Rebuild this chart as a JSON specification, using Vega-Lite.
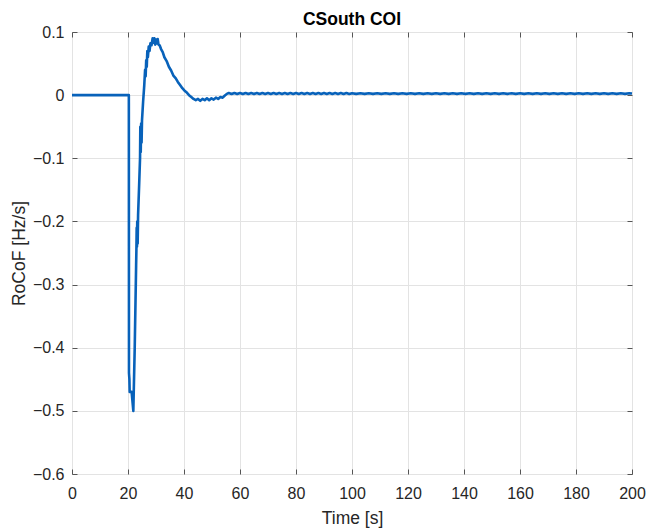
{
  "$schema": "https://vega.github.io/schema/vega-lite/v6.json",
  "width": 560,
  "height": 442,
  "autosize": {"type": "none"},
  "padding": {"left": 72, "top": 32, "right": 16, "bottom": 56},
  "background": "white",
  "title": {"text": "CSouth COI", "font": "Liberation Sans", "fontSize": 17.5, "fontWeight": "bold", "color": "#000000", "offset": -4, "anchor": "middle"},
  "config": {
    "font": "Liberation Sans",
    "view": {"stroke": "#7a7a7a", "strokeWidth": 1}
  },
  "data": {"values": [
    {"t":0,"v":0},{"t":20.3,"v":0},{"t":20.35,"v":-0.44},{"t":20.5,"v":-0.45},{"t":20.6,"v":-0.47},{"t":21.3,"v":-0.47},{"t":21.9,"v":-0.5},{"t":22.4,"v":-0.4},{"t":22.9,"v":-0.27},{"t":23.0,"v":-0.245},{"t":23.1,"v":-0.21},{"t":23.2,"v":-0.24},{"t":23.3,"v":-0.2},{"t":23.45,"v":-0.235},{"t":23.6,"v":-0.19},{"t":24.0,"v":-0.14},{"t":24.3,"v":-0.1},{"t":24.4,"v":-0.05},{"t":24.55,"v":-0.09},{"t":24.7,"v":-0.045},{"t":24.85,"v":-0.075},{"t":25.0,"v":-0.04},{"t":25.4,"v":-0.01},{"t":25.8,"v":0.015},{"t":26.1,"v":0.04},{"t":26.3,"v":0.03},{"t":26.5,"v":0.055},{"t":26.7,"v":0.045},{"t":26.9,"v":0.07},{"t":27.1,"v":0.06},{"t":27.4,"v":0.077},{"t":27.7,"v":0.07},{"t":28.0,"v":0.082},{"t":28.4,"v":0.079},{"t":28.8,"v":0.09},{"t":29.1,"v":0.083},{"t":29.4,"v":0.09},{"t":29.7,"v":0.08},{"t":30.0,"v":0.088},{"t":30.3,"v":0.082},{"t":30.6,"v":0.089},{"t":30.9,"v":0.08},{"t":31.3,"v":0.079},{"t":31.8,"v":0.073},{"t":32.4,"v":0.068},{"t":33.0,"v":0.06},{"t":33.8,"v":0.054},{"t":34.6,"v":0.045},{"t":35.4,"v":0.039},{"t":36.2,"v":0.031},{"t":37.0,"v":0.027},{"t":37.8,"v":0.021},{"t":38.6,"v":0.016},{"t":39.4,"v":0.011},{"t":40.2,"v":0.007},{"t":41.0,"v":0.004},{"t":41.8,"v":0.0},{"t":42.6,"v":-0.003},{"t":43.4,"v":-0.006},{"t":44.2,"v":-0.008},{"t":45.0,"v":-0.006},{"t":45.8,"v":-0.009},{"t":46.6,"v":-0.006},{"t":47.4,"v":-0.008},{"t":48.2,"v":-0.005},{"t":49.0,"v":-0.008},{"t":49.8,"v":-0.005},{"t":50.6,"v":-0.007},{"t":51.4,"v":-0.004},{"t":52.2,"v":-0.006},{"t":53.0,"v":-0.003},{"t":53.8,"v":-0.004},{"t":54.5,"v":-0.001},{"t":55.3,"v":0.002},
    {"t":56,"v":0.0033},{"t":57,"v":0.0017},{"t":58,"v":0.0035},{"t":59,"v":0.0017},{"t":60,"v":0.0033},{"t":61,"v":0.0017},{"t":62,"v":0.0035},{"t":63,"v":0.0017},{"t":64,"v":0.0033},{"t":65,"v":0.0017},{"t":66,"v":0.0035},{"t":67,"v":0.0017},{"t":68,"v":0.0033},{"t":69,"v":0.0017},{"t":70,"v":0.0033},{"t":71,"v":0.0017},{"t":72,"v":0.0033},{"t":73,"v":0.0017},{"t":74,"v":0.0033},{"t":75,"v":0.0017},{"t":76,"v":0.0033},{"t":77,"v":0.0017},{"t":78,"v":0.0033},{"t":79,"v":0.0017},{"t":80,"v":0.0033},{"t":81,"v":0.0017},{"t":82,"v":0.0033},{"t":83,"v":0.0017},{"t":84,"v":0.0033},{"t":85,"v":0.0017},{"t":86,"v":0.0033},{"t":87,"v":0.0017},{"t":88,"v":0.0033},{"t":89,"v":0.0017},{"t":90,"v":0.0033},{"t":91,"v":0.0017},{"t":92,"v":0.0033},{"t":93,"v":0.0017},{"t":94,"v":0.0033},{"t":95,"v":0.0017},{"t":96,"v":0.0033},{"t":97,"v":0.0017},{"t":98,"v":0.0033},{"t":99,"v":0.0017},{"t":100,"v":0.003},
    {"t":101.5,"v":0.002},{"t":103,"v":0.003},{"t":104.5,"v":0.002},{"t":106,"v":0.003},{"t":107.5,"v":0.002},{"t":109,"v":0.003},{"t":110.5,"v":0.002},{"t":112,"v":0.003},{"t":113.5,"v":0.002},{"t":115,"v":0.003},{"t":116.5,"v":0.002},{"t":118,"v":0.003},{"t":119.5,"v":0.002},{"t":121,"v":0.003},{"t":122.5,"v":0.002},{"t":124,"v":0.003},{"t":125.5,"v":0.002},{"t":127,"v":0.003},{"t":128.5,"v":0.002},{"t":130,"v":0.003},{"t":131.5,"v":0.002},{"t":133,"v":0.003},{"t":134.5,"v":0.002},{"t":136,"v":0.003},{"t":137.5,"v":0.002},{"t":139,"v":0.003},{"t":140.5,"v":0.002},{"t":142,"v":0.003},{"t":143.5,"v":0.002},{"t":145,"v":0.003},{"t":146.5,"v":0.002},{"t":148,"v":0.003},{"t":149.5,"v":0.002},{"t":151,"v":0.003},{"t":152.5,"v":0.002},{"t":154,"v":0.003},{"t":155.5,"v":0.002},{"t":157,"v":0.003},{"t":158.5,"v":0.002},{"t":160,"v":0.003},{"t":161.5,"v":0.002},{"t":163,"v":0.003},{"t":164.5,"v":0.002},{"t":166,"v":0.003},{"t":167.5,"v":0.002},{"t":169,"v":0.003},{"t":170.5,"v":0.002},{"t":172,"v":0.003},{"t":173.5,"v":0.002},{"t":175,"v":0.003},{"t":176.5,"v":0.002},{"t":178,"v":0.003},{"t":179.5,"v":0.002},{"t":181,"v":0.003},{"t":182.5,"v":0.002},{"t":184,"v":0.003},{"t":185.5,"v":0.002},{"t":187,"v":0.003},{"t":188.5,"v":0.002},{"t":190,"v":0.003},{"t":191.5,"v":0.002},{"t":193,"v":0.003},{"t":194.5,"v":0.002},{"t":196,"v":0.003},{"t":197.5,"v":0.002},{"t":199,"v":0.003},{"t":200,"v":0.0025}
  ]},
  "resolve": {"axis": {"x": "independent", "y": "independent"}},
  "layer": [
    {
      "mark": {"type": "line", "strokeOpacity": 0},
      "encoding": {
        "x": {"field": "t", "type": "quantitative", "scale": {"domain": [0, 200], "nice": false, "zero": false},
              "axis": {"orient": "top", "values": [0,20,40,60,80,100,120,140,160,180,200], "labels": false, "title": null, "grid": false, "domain": false, "ticks": true, "tickSize": -5, "tickColor": "#555555"}},
        "y": {"field": "v", "type": "quantitative", "scale": {"domain": [-0.6, 0.1], "nice": false, "zero": false},
              "axis": {"orient": "right", "values": [-0.6,-0.5,-0.4,-0.3,-0.2,-0.1,0,0.1], "labels": false, "title": null, "grid": false, "domain": false, "ticks": true, "tickSize": -5, "tickColor": "#555555"}}
      }
    },
    {
      "mark": {"type": "line", "color": "#0862BA", "strokeWidth": 2.6, "strokeJoin": "round"},
      "encoding": {
        "x": {"field": "t", "type": "quantitative", "scale": {"domain": [0, 200], "nice": false, "zero": false},
              "axis": {"orient": "bottom", "values": [0,20,40,60,80,100,120,140,160,180,200], "labelFlush": false, "title": "Time [s]", "titleFontSize": 17.5, "titleFontWeight": "normal", "titleColor": "#262626", "titlePadding": 8, "labelFontSize": 16, "labelColor": "#262626", "labelPadding": 16, "grid": true, "gridColor": "#e3e3e3", "domain": false, "ticks": true, "tickSize": -5, "tickColor": "#555555"}},
        "y": {"field": "v", "type": "quantitative", "scale": {"domain": [-0.6, 0.1], "nice": false, "zero": false},
              "axis": {"orient": "left", "values": [-0.6,-0.5,-0.4,-0.3,-0.2,-0.1,0,0.1], "labelFlush": false, "format": "~g", "title": "RoCoF [Hz/s]", "titleFontSize": 17.5, "titleFontWeight": "normal", "titleColor": "#262626", "titlePadding": 4, "labelFontSize": 16, "labelColor": "#262626", "labelPadding": 13, "grid": true, "gridColor": "#e3e3e3", "domain": false, "ticks": true, "tickSize": -5, "tickColor": "#555555"}}
      }
    }
  ]
}
